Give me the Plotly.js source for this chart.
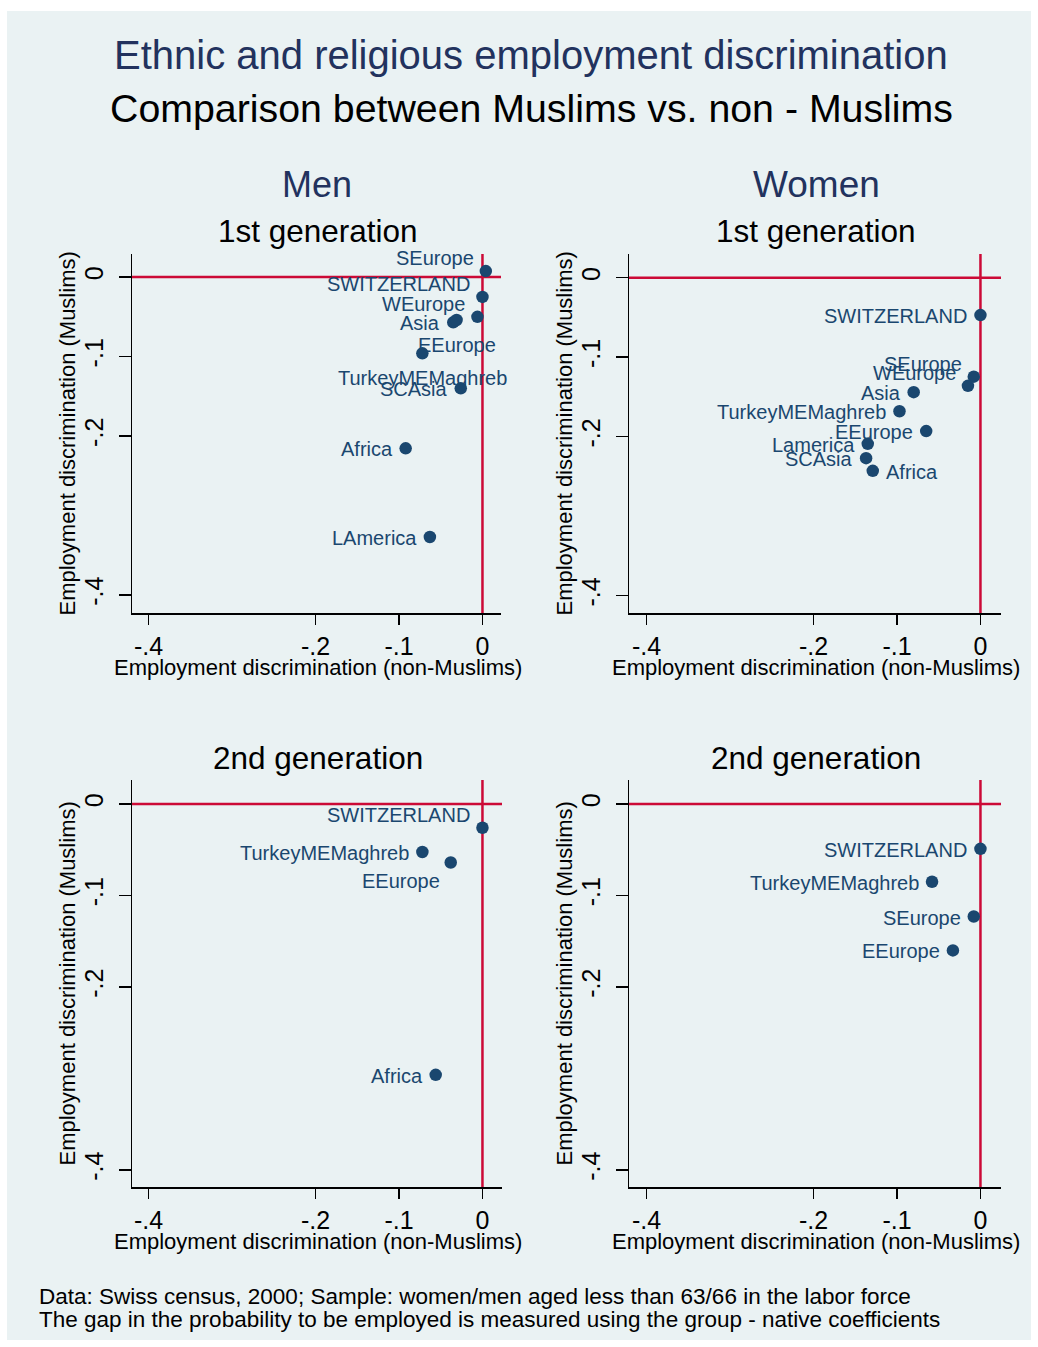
<!DOCTYPE html>
<html>
<head>
<meta charset="utf-8">
<script src="https://cdn.plot.ly/plotly-3.0.1.min.js"></script>
<style>html,body{margin:0;padding:0;background:#fff;}</style>
</head>
<body>
<div id="chart" style="width:1038px;height:1347px;"></div>
<script>
// Employment gap (group minus native coefficient), Muslims (y) vs non-Muslims (x)

// Men, 1st generation
const men1Groups = ["SEurope", "SWITZERLAND", "WEurope", "Asia", "EEurope", "TurkeyMEMaghreb", "SCAsia", "Africa", "LAmerica"];
const men1NonMuslims = [0.004, 0.000, -0.006, -0.035, -0.031, -0.072, -0.026, -0.092, -0.063];
const men1Muslims = [0.0075, -0.025, -0.050, -0.057, -0.054, -0.096, -0.140, -0.2155, -0.327];

// Women, 1st generation
const women1Groups = ["SWITZERLAND", "SEurope", "WEurope", "Asia", "TurkeyMEMaghreb", "EEurope", "Lamerica", "SCAsia", "Africa"];
const women1NonMuslims = [0.000, -0.008, -0.015, -0.080, -0.097, -0.065, -0.135, -0.137, -0.129];
const women1Muslims = [-0.047, -0.1245, -0.136, -0.144, -0.168, -0.193, -0.209, -0.227, -0.243];

// Men, 2nd generation
const men2Groups = ["SWITZERLAND", "TurkeyMEMaghreb", "EEurope", "Africa"];
const men2NonMuslims = [0.000, -0.072, -0.038, -0.056];
const men2Muslims = [-0.026, -0.0525, -0.064, -0.296];

// Women, 2nd generation
const women2Groups = ["SWITZERLAND", "TurkeyMEMaghreb", "SEurope", "EEurope"];
const women2NonMuslims = [0.000, -0.058, -0.008, -0.033];
const women2Muslims = [-0.049, -0.085, -0.123, -0.160];

// Axis ticks
const tickVals = [-0.4, -0.2, -0.1, 0];
const tickText = ["-.4", "-.2", "-.1", "0"];

// Where each group's label sits relative to its marker
const men1LabelPos = ["upleft", "upleft", "upleft", "left", "below", "below", "left", "left", "left"];
const women1LabelPos = ["left", "upleft", "upleft", "left", "left", "left", "left", "left", "right"];
const men2LabelPos = ["upleft", "left", "downleft", "left"];
const women2LabelPos = ["left", "left", "left", "left"];

const W = 1038, H = 1347;
const FONT = "Liberation Sans, Arial, sans-serif";
const NAVY = "#1a476f";
const TITLE_NAVY = "#22325e";
const RED = "#cc0a36";
const BG = "#eaf2f3";

const px = v => v / W;
const py = v => 1 - v / H;

// label offsets in pixels: [xanchor, xshift, yshift]
const labelStyle = {
  left: ["right", -11, -1],
  right: ["left", 11, -1],
  upleft: ["right", -10, 13],
  downleft: ["right", -9, -18],
  below: ["center", 0, -25]
};

// plot areas in pixels: [left, right, top, bottom]
const boxes = [
  [132, 501, 254, 613],
  [629, 1001, 254, 613],
  [132, 502, 780, 1187],
  [629, 1001, 780, 1187]
];
const yRanges = [[-0.4226, 0.029], [-0.4218, 0.0298], [-0.4186, 0.0262], [-0.4186, 0.0262]];
const xRanges = [[-0.4198, 0.0222], [-0.421, 0.0246], [-0.4198, 0.0234], [-0.421, 0.0246]];

const panels = [
  [men1Groups, men1NonMuslims, men1Muslims, men1LabelPos],
  [women1Groups, women1NonMuslims, women1Muslims, women1LabelPos],
  [men2Groups, men2NonMuslims, men2Muslims, men2LabelPos],
  [women2Groups, women2NonMuslims, women2Muslims, women2LabelPos]
];

const suffix = i => (i === 0 ? "" : String(i + 1));

const traces = panels.map((p, i) => ({
  type: "scatter",
  mode: "markers",
  x: p[1],
  y: p[2],
  marker: {color: NAVY, size: 12.5},
  cliponaxis: false,
  xaxis: "x" + suffix(i),
  yaxis: "y" + suffix(i),
  hoverinfo: "skip",
  showlegend: false
}));

const layout = {
  width: W,
  height: H,
  margin: {l: 0, r: 0, t: 0, b: 0},
  paper_bgcolor: "#ffffff",
  plot_bgcolor: "#ffffff",
  font: {family: FONT, color: "#000"},
  showlegend: false,
  shapes: [{
    type: "rect", xref: "paper", yref: "paper",
    x0: px(7), x1: px(1031), y0: py(1340), y1: py(11),
    fillcolor: BG, line: {width: 0}, layer: "below"
  }],
  annotations: []
};

function note(text, x, y, size, color, xanchor, angle) {
  layout.annotations.push({
    text: text, xref: "paper", yref: "paper", x: px(x), y: py(y),
    xanchor: xanchor || "center", yanchor: "middle", showarrow: false,
    textangle: angle || 0,
    font: {family: FONT, size: size, color: color}
  });
}

boxes.forEach((b, i) => {
  const s = suffix(i);
  layout["xaxis" + s] = {
    domain: [px(b[0]), px(b[1])],
    range: xRanges[i],
    anchor: "y" + s,
    tickvals: tickVals,
    ticktext: tickText,
    ticks: "outside",
    ticklen: 10,
    tickwidth: 1.5,
    tickcolor: "#000",
    ticklabelstandoff: 0,
    tickfont: {family: FONT, size: 25, color: "#000"},
    showline: true,
    linecolor: "#000",
    linewidth: 1.5,
    showgrid: false,
    zeroline: false,
    fixedrange: true
  };
  layout["yaxis" + s] = {
    domain: [py(b[3]), py(b[2])],
    range: yRanges[i],
    anchor: "x" + s,
    tickvals: tickVals,
    ticktext: tickText,
    tickangle: -90,
    ticks: "outside",
    ticklen: 12,
    tickwidth: 1.5,
    tickcolor: "#000",
    ticklabelstandoff: 6,
    tickfont: {family: FONT, size: 25, color: "#000"},
    showline: true,
    linecolor: "#000",
    linewidth: 1.5,
    showgrid: false,
    zeroline: false,
    fixedrange: true
  };
  // light horizontal grid at the non-zero ticks
  tickVals.filter(v => v !== 0).forEach(v => {
    layout.shapes.push({
      type: "line", xref: "x" + s + " domain", yref: "y" + s,
      x0: 0, x1: 1, y0: v, y1: v, line: {color: BG, width: 2.5}, layer: "below"
    });
  });
  // reference lines at zero
  layout.shapes.push({
    type: "line", xref: "x" + s, yref: "y" + s + " domain",
    x0: 0, x1: 0, y0: 0, y1: 1, line: {color: RED, width: 2.5}, layer: "below"
  });
  layout.shapes.push({
    type: "line", xref: "x" + s + " domain", yref: "y" + s,
    x0: 0, x1: 1, y0: 0, y1: 0, line: {color: RED, width: 2.5}, layer: "below"
  });
  // axis titles
  note("Employment discrimination (non-Muslims)", (b[0] + b[1]) / 2 + 1, b[3] + 54, 22, "#000");
  note("Employment discrimination (Muslims)", b[0] - 65, (b[2] + b[3]) / 2, 22, "#000", "center", -90);

  // group labels next to their markers
  const p = panels[i];
  p[0].forEach((name, k) => {
    const st = labelStyle[p[3][k]];
    layout.annotations.push({
      text: name, xref: "x" + s, yref: "y" + s, x: p[1][k], y: p[2][k],
      xanchor: st[0], yanchor: "middle", xshift: st[1], yshift: st[2],
      showarrow: false, font: {family: FONT, size: 20, color: NAVY}
    });
  });
});

note("Ethnic and religious employment discrimination", 531, 55, 40, TITLE_NAVY);
note("Comparison between Muslims vs. non - Muslims", 531, 108, 39.3, "#000");
note("Men", 317, 185, 36, TITLE_NAVY);
note("Women", 816, 185, 37, TITLE_NAVY);
note("1st generation", 318, 231, 31.5, "#000");
note("1st generation", 816, 231, 31.5, "#000");
note("2nd generation", 318, 758, 31.5, "#000");
note("2nd generation", 816, 758, 31.5, "#000");
note("Data: Swiss census, 2000; Sample: women/men aged less than 63/66 in the labor force", 37, 1296, 22.5, "#000", "left");
note("The gap in the probability to be employed is measured using the group - native coefficients", 37, 1319, 22.5, "#000", "left");

Plotly.newPlot("chart", traces, layout, {staticPlot: true, displayModeBar: false});
</script>
</body>
</html>
